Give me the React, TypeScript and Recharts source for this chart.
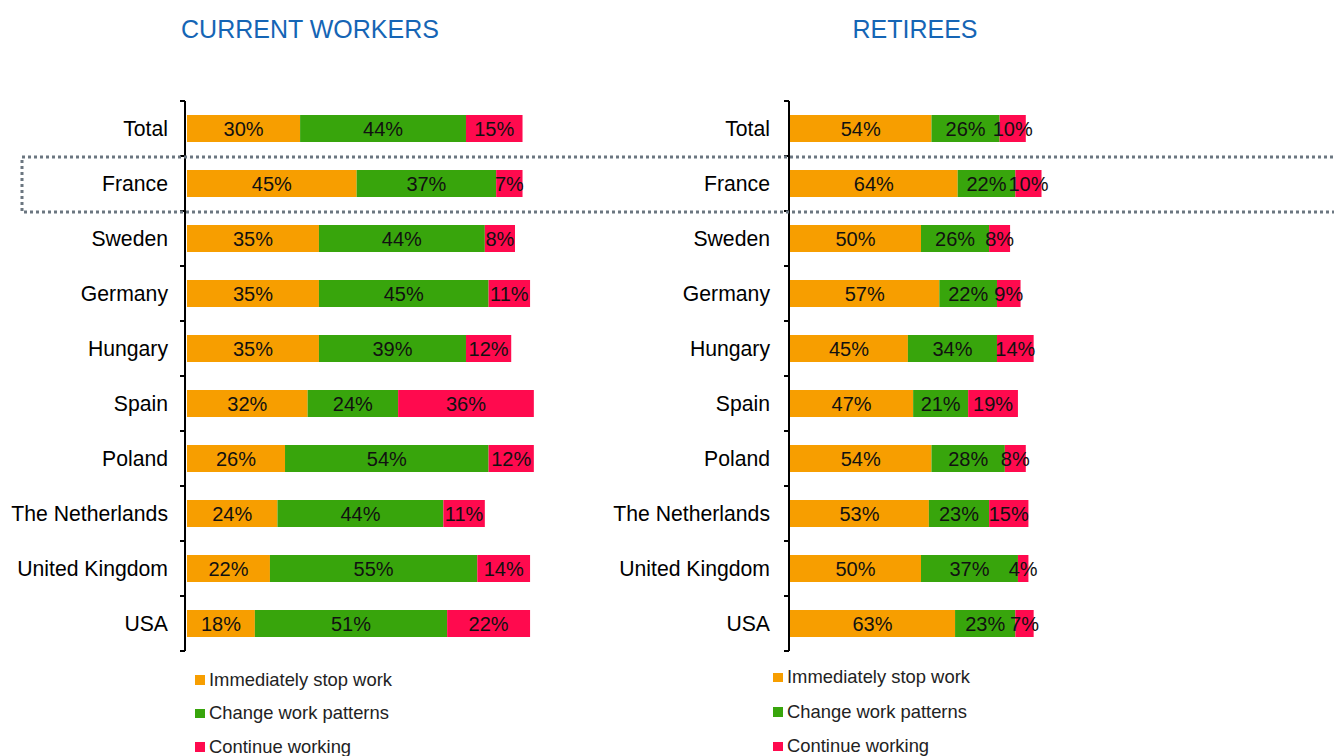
import { BarChart, Bar, XAxis, YAxis, LabelList, Legend } from "recharts";

const countries = [
  "Total",
  "France",
  "Sweden",
  "Germany",
  "Hungary",
  "Spain",
  "Poland",
  "The Netherlands",
  "United Kingdom",
  "USA",
];

const seriesNames = ["Immediately stop work", "Change work patterns", "Continue working"];
const colors = ["#F79E00", "#38A50C", "#FF0A4E"];

// current workers (%)
const workersStop = [30, 45, 35, 35, 35, 32, 26, 24, 22, 18];
const workersChange = [44, 37, 44, 45, 39, 24, 54, 44, 55, 51];
const workersContinue = [15, 7, 8, 11, 12, 36, 12, 11, 14, 22];

// retirees (%)
const retireesStop = [54, 64, 50, 57, 45, 47, 54, 53, 50, 63];
const retireesChange = [26, 22, 26, 22, 34, 21, 28, 23, 37, 23];
const retireesContinue = [10, 10, 8, 9, 14, 19, 8, 15, 4, 7];

const FONT = "'Liberation Sans', Arial, sans-serif";
const TOP = 101;
const BOTTOM = 651;
const H = 756;
const BAND = (BOTTOM - TOP) / countries.length;

const build = (a: number[], b: number[], c: number[]) =>
  countries.map((name, i) => ({ name, stop: a[i], change: b[i], cont: c[i] }));

const workers = build(workersStop, workersChange, workersContinue);
const retirees = build(retireesStop, retireesChange, retireesContinue);

const CountryTick = (props: any) => {
  const { x, y, payload, index, gap } = props;
  const last = index === countries.length - 1;
  return (
    <g>
      <line x1={x - 5} y1={y - BAND / 2} x2={x} y2={y - BAND / 2} stroke="#000" strokeWidth={2} />
      {last && <line x1={x - 5} y1={y + BAND / 2} x2={x} y2={y + BAND / 2} stroke="#000" strokeWidth={2} />}
      <text x={x - gap} y={y} textAnchor="end" dominantBaseline="central" fontSize={21.2} fontFamily={FONT} fill="#000">
        {payload.value}
      </text>
    </g>
  );
};

const LegendList = (props: any) => {
  const { payload, rowH } = props;
  // keep the series order, not the alphabetical one
  const items = [...(payload || [])].sort(
    (a: any, b: any) => seriesNames.indexOf(a.value) - seriesNames.indexOf(b.value)
  );
  return (
    <div style={{ fontFamily: FONT, fontSize: 18.4, color: "#222" }}>
      {items.map((p: any) => (
        <div key={p.value} style={{ display: "flex", alignItems: "center", height: rowH, whiteSpace: "nowrap" }}>
          <span style={{ display: "inline-block", width: 9.5, height: 9.5, background: p.color, marginRight: 4.5 }} />
          <span>{p.value}</span>
        </div>
      ))}
    </div>
  );
};

interface PanelProps {
  data: typeof workers;
  width: number;
  axisX: number;
  pad: number;
  right: number;
  labelGap: number;
  legendLeft: number;
  legendTop: number;
  rowH: number;
}

const Panel = ({ data, width, axisX, pad, right, labelGap, legendLeft, legendTop, rowH }: PanelProps) => (
  <BarChart
    width={width}
    height={H}
    data={data}
    layout="vertical"
    margin={{ top: TOP, right, bottom: H - BOTTOM, left: 0 }}
    barSize={27}
  >
    <XAxis type="number" domain={[0, 100]} hide padding={{ left: pad, right: 0 }} />
    <YAxis
      type="category"
      dataKey="name"
      width={axisX}
      interval={0}
      tickLine={false}
      tickSize={0}
      tickMargin={0}
      axisLine={{ stroke: "#000", strokeWidth: 2 }}
      tick={<CountryTick gap={labelGap} />}
    />
    <Legend
      layout="vertical"
      align="center"
      verticalAlign="middle"
      wrapperStyle={{ left: legendLeft, top: legendTop, width: "auto" }}
      content={<LegendList rowH={rowH} />}
    />
    {["stop", "change", "cont"].map((key, i) => (
      <Bar key={key} dataKey={key} name={seriesNames[i]} stackId="a" fill={colors[i]} isAnimationActive={false}>
        <LabelList
          dataKey={key}
          position="center"
          formatter={(v: any) => `${v}%`}
          fill="#111"
          fontSize={20}
          fontFamily={FONT}
        />
      </Bar>
    ))}
  </BarChart>
);

const App = () => (
  <div style={{ position: "absolute", left: 0, top: 0, width: 1334, height: H, background: "#fff", overflow: "hidden", fontFamily: FONT }}>
    <div style={{ position: "absolute", left: 0, top: 0 }}>
      <Panel data={workers} width={600} axisX={185} pad={2} right={36} labelGap={17} legendLeft={195} legendTop={663} rowH={33.5} />
    </div>
    <div style={{ position: "absolute", left: 600, top: 0 }}>
      <Panel data={retirees} width={734} axisX={189} pad={1} right={282} labelGap={19} legendLeft={173} legendTop={660} rowH={34.5} />
    </div>
    <svg width={1334} height={H} style={{ position: "absolute", left: 0, top: 0, pointerEvents: "none" }}>
      <text x={310} y={29} textAnchor="middle" dominantBaseline="central" fontSize={25} fontFamily={FONT} fill="#1565B5">
        CURRENT WORKERS
      </text>
      <text x={915} y={29} textAnchor="middle" dominantBaseline="central" fontSize={25} fontFamily={FONT} fill="#1565B5">
        RETIREES
      </text>
      <rect
        x={22}
        y={TOP + BAND + 1}
        width={1400}
        height={BAND}
        fill="none"
        stroke="#6B7680"
        strokeWidth={3}
        strokeDasharray="3 3"
      />
    </svg>
  </div>
);

export default App;
